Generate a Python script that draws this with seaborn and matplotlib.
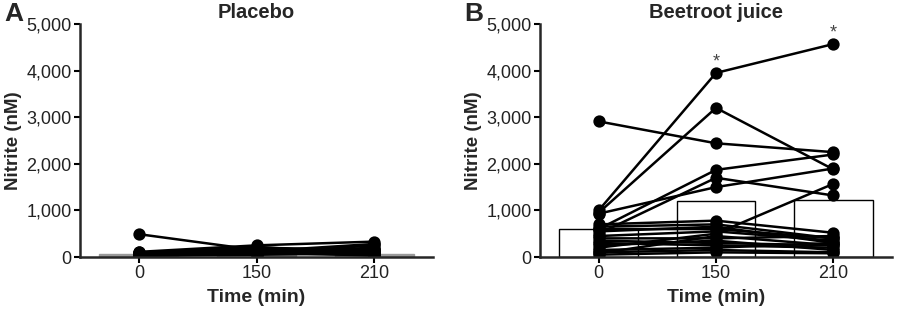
import numpy as np
import pandas as pd
import matplotlib
matplotlib.use("Agg")
import matplotlib.pyplot as plt
import seaborn as sns
from matplotlib.ticker import StrMethodFormatter

# --- data ---
times = ["0", "150", "210"]

# mean bars
placebo_means = [60, 80, 70]
beet_means = [600, 1210, 1225]

# individual subjects (nM) at 0, 150, 210 min
placebo_t0 = [490, 110, 90, 80, 70, 60, 55, 50, 45, 40, 35, 30, 25, 20, 60, 70, 100, 40]
placebo_t150 = [150, 250, 200, 120, 100, 180, 90, 80, 150, 60, 110, 70, 50, 130, 220, 90, 60, 100]
placebo_t210 = [120, 330, 150, 280, 100, 60, 200, 90, 70, 150, 40, 250, 110, 80, 50, 180, 60, 30]

beet_t0 = [1000, 950, 2910, 600, 930, 500, 200, 700, 650, 550, 450, 400, 350, 300, 250, 150, 100, 80, 50, 600]
beet_t150 = [3950, 3200, 2440, 1870, 1500, 1700, 500, 780, 700, 650, 550, 400, 300, 250, 350, 200, 150, 450, 100, 600]
beet_t210 = [4570, 1880, 2250, 2200, 1900, 1320, 1570, 520, 400, 300, 350, 450, 250, 200, 150, 300, 100, 250, 80, 400]

# significance marks (time, value of the point under the star)
star_times = ["150", "210"]
star_values = [3950, 4570]


def long_table(t0, t150, t210):
    rows = []
    for i, vals in enumerate(zip(t0, t150, t210)):
        for t, v in zip(times, vals):
            rows.append({"subject": i, "time": t, "value": v})
    return pd.DataFrame(rows)


sns.set_style("ticks")
plt.rcParams["font.family"] = ["Liberation Sans", "DejaVu Sans"]

fig = plt.figure(figsize=(8.98, 3.12), dpi=100)
axA = fig.add_axes([80 / 898, 1 - 257 / 312, 353 / 898, 233 / 312])
axB = fig.add_axes([540 / 898, 1 - 257 / 312, 352 / 898, 233 / 312])

panels = [
    (axA, "Placebo", "A", placebo_means, long_table(placebo_t0, placebo_t150, placebo_t210),
     "#9a9a9a", "#9a9a9a"),
    (axB, "Beetroot juice", "B", beet_means, long_table(beet_t0, beet_t150, beet_t210),
     "white", "black"),
]

for ax, title, letter, means, df, face, edge in panels:
    bars = pd.DataFrame({"time": times, "value": means})
    sns.barplot(data=bars, x="time", y="value", order=times, ax=ax, color=face,
                edgecolor=edge, linewidth=1.0, width=0.67, saturation=1, zorder=1)
    for p in ax.patches:
        p.set_facecolor(face)
        p.set_edgecolor(edge)
    n = df["subject"].nunique()
    sns.pointplot(data=df, x="time", y="value", hue="subject", order=times,
                  palette=["black"] * n, errorbar=None, legend=False, ax=ax,
                  markersize=7.5, linewidth=1.8)
    ax.set_xlim(-0.5, 2.5)
    ax.set_ylim(0, 5000)
    ax.set_yticks([0, 1000, 2000, 3000, 4000, 5000])
    ax.yaxis.set_major_formatter(StrMethodFormatter("{x:,.0f}"))
    ax.set_xlabel("Time (min)", fontsize=14, fontweight="bold", labelpad=5)
    ax.set_ylabel("Nitrite (nM)", fontsize=13.5, fontweight="bold", labelpad=3)
    ax.set_title(title, fontsize=14.5, fontweight="bold", pad=4)
    ax.tick_params(axis="both", labelsize=13, width=1.5, length=4, colors="black",
                   pad=2)
    ax.tick_params(axis="y", labelcolor="#222222")
    ax.tick_params(axis="x", labelcolor="#222222")
    for s in ["left", "bottom"]:
        ax.spines[s].set_linewidth(1.8)
    sns.despine(ax=ax)
    ax.text(-0.215, 1.045, letter, transform=ax.transAxes, fontsize=19,
            fontweight="bold", va="center", ha="left")

for t, v in zip(star_times, star_values):
    axB.text(times.index(t), v + 60, "*", ha="center", va="bottom",
             fontsize=13, color="#444444")

fig.savefig("out.png", dpi=100)
